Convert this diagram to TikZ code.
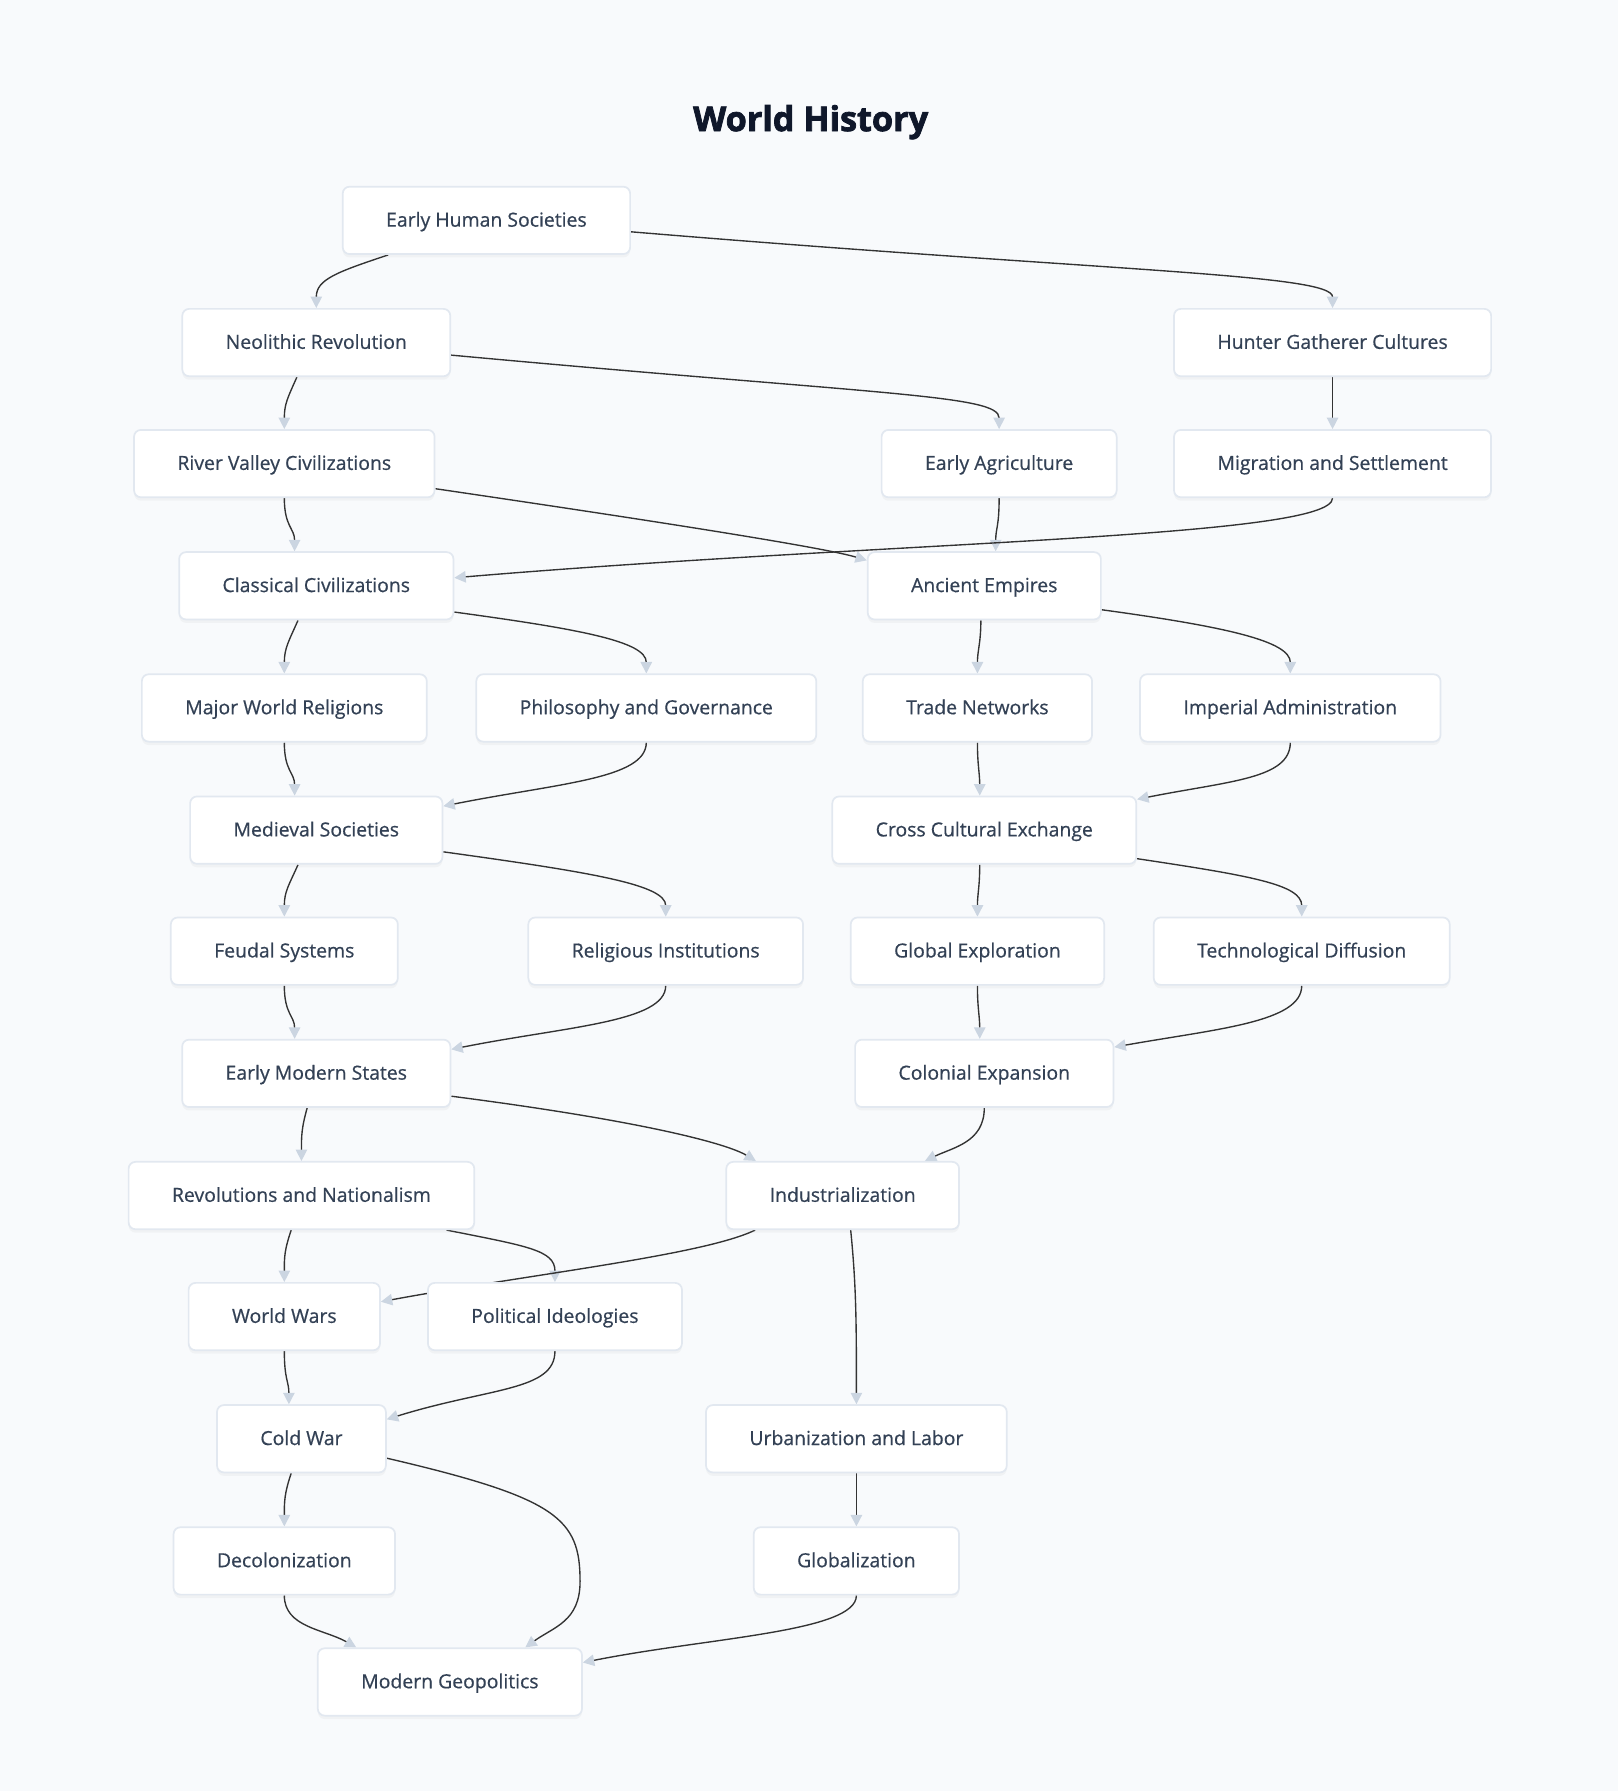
\documentclass[tikz,border=0pt]{standalone}
\usepackage{fontspec}
\setmainfont{Open Sans}[UprightFeatures={FakeBold=0.6}]
\newfontfamily\heavyfont{Open Sans}[BoldFeatures={FakeBold=2.2}]
\usetikzlibrary{arrows.meta,shadows}
\definecolor{pagebg}{HTML}{F8FAFC}
\definecolor{boxline}{HTML}{E2E8F0}
\definecolor{boxtext}{HTML}{334155}
\definecolor{titletext}{HTML}{0F172A}
\definecolor{edgeline}{HTML}{333333}
\definecolor{tipcol}{HTML}{CBD5E1}
\pgfdeclarelayer{bg}
\pgfdeclarelayer{edges}
\pgfsetlayers{bg,edges,main}
\begin{document}
\begin{tikzpicture}[x=1pt, y=-1pt,
    topic/.style={shape=rectangle, rounded corners=6pt, fill=white, draw=boxline, line width=1.5pt,
        minimum height=59pt, inner xsep=38pt, text height=12pt, text depth=1pt, text=boxtext,
        font=\fontsize{17}{20}\selectfont,
        drop shadow={opacity=0.06, shadow xshift=0pt, shadow yshift=-3pt}},
    link/.style={draw=edgeline, line width=1.2pt, -{Triangle[length=10pt, width=10pt, color=tipcol]}}]
    \useasboundingbox (0, 0) rectangle (1417, 1568.5);
    \begin{pgfonlayer}{bg}
        \fill[pagebg] (0, 0) rectangle (1417, 1568.5);
    \end{pgfonlayer}

    \node[text=titletext, font=\fontsize{30}{36}\selectfont\heavyfont\bfseries] (title) at (710, 107) {World History};

    \node[topic] (ehs) at (426, 193) {Early Human Societies};
    \node[topic] (neo) at (277, 300) {Neolithic Revolution};
    \node[topic] (hgc) at (1167, 300) {Hunter Gatherer Cultures};
    \node[topic] (rvc) at (249, 406) {River Valley Civilizations};
    \node[topic] (eag) at (875, 406) {Early Agriculture};
    \node[topic] (mig) at (1167, 406) {Migration and Settlement};
    \node[topic] (cla) at (277, 513) {Classical Civilizations};
    \node[topic] (aem) at (862, 513) {Ancient Empires};
    \node[topic] (mwr) at (249, 620) {Major World Religions};
    \node[topic] (phg) at (566, 620) {Philosophy and Governance};
    \node[topic] (trn) at (856, 620) {Trade Networks};
    \node[topic] (iad) at (1130, 620) {Imperial Administration};
    \node[topic] (med) at (277, 727) {Medieval Societies};
    \node[topic] (cce) at (862, 727) {Cross Cultural Exchange};
    \node[topic] (feu) at (249, 833) {Feudal Systems};
    \node[topic] (rin) at (583, 833) {Religious Institutions};
    \node[topic] (gex) at (856, 833) {Global Exploration};
    \node[topic] (tdf) at (1140, 833) {Technological Diffusion};
    \node[topic] (ems) at (277, 940) {Early Modern States};
    \node[topic] (cex) at (862, 940) {Colonial Expansion};
    \node[topic] (rnt) at (264, 1047) {Revolutions and Nationalism};
    \node[topic] (ind) at (738, 1047) {Industrialization};
    \node[topic] (wwr) at (249, 1153) {World Wars};
    \node[topic] (pid) at (486, 1153) {Political Ideologies};
    \node[topic] (cwr) at (264, 1260) {Cold War};
    \node[topic] (ula) at (750, 1260) {Urbanization and Labor};
    \node[topic] (dec) at (249, 1367) {Decolonization};
    \node[topic] (glb) at (750, 1367) {Globalization};
    \node[topic] (mgp) at (394, 1473) {Modern Geopolitics};

    \begin{pgfonlayer}{edges}
        \draw[link] ([xshift=-86pt]ehs.south) .. controls +(-45, 15) and +(0, -25) .. (neo.north);
        \draw[link] ([yshift=-10pt]ehs.east) .. controls +(420, 35) and +(0, -30) .. (hgc.north);
        \draw[link] ([xshift=-17pt]neo.south) .. controls +(-8, 18) and +(0, -22) .. (rvc.north);
        \draw[link] ([yshift=-11pt]neo.east) .. controls +(380, 35) and +(0, -30) .. (eag.north);
        \draw[link] (hgc.south) -- (mig.north);
        \draw[link] (rvc.south) .. controls +(0, 25) and +(0, -20) .. ([xshift=-19pt]cla.north);
        \draw[link] ([yshift=-22pt]rvc.east) .. controls +(170, 25) and +(-40, -12) .. ([yshift=-8pt]aem.north west);
        \draw[link] (eag.south) .. controls +(0, 25) and +(0, -20) .. ([xshift=10pt]aem.north);
        \draw[link] (mig.south) .. controls +(0, 35) and +(380, -32) .. ([yshift=7pt]cla.east);
        \draw[link] ([xshift=-16pt]cla.south) .. controls +(-8, 18) and +(0, -22) .. (mwr.north);
        \draw[link] ([yshift=-23pt]cla.east) .. controls +(110, 15) and +(0, -28) .. (phg.north);
        \draw[link] ([xshift=-3pt]aem.south) .. controls +(0, 20) and +(0, -20) .. (trn.north);
        \draw[link] ([yshift=-21pt]aem.east) .. controls +(110, 15) and +(0, -28) .. (iad.north);
        \draw[link] (mwr.south) .. controls +(0, 25) and +(0, -20) .. ([xshift=-19pt]med.north);
        \draw[link] (phg.south) .. controls +(0, 32) and +(100, -20) .. ([yshift=21pt]med.east);
        \draw[link] (trn.south) .. controls +(0, 20) and +(0, -20) .. ([xshift=-4pt]cce.north);
        \draw[link] (iad.south) .. controls +(0, 32) and +(80, -16) .. ([yshift=27pt]cce.east);
        \draw[link] ([xshift=-16pt]med.south) .. controls +(-8, 18) and +(0, -22) .. (feu.north);
        \draw[link] ([yshift=-19pt]med.east) .. controls +(130, 18) and +(0, -28) .. (rin.north);
        \draw[link] ([xshift=-4pt]cce.south) .. controls +(0, 20) and +(0, -20) .. (gex.north);
        \draw[link] ([yshift=-25pt]cce.east) .. controls +(100, 15) and +(0, -28) .. (tdf.north);
        \draw[link] (feu.south) .. controls +(0, 25) and +(0, -20) .. ([xshift=-19pt]ems.north);
        \draw[link] (rin.south) .. controls +(0, 32) and +(100, -20) .. ([yshift=21pt]ems.east);
        \draw[link] (gex.south) .. controls +(0, 20) and +(0, -20) .. ([xshift=-4pt]cex.north);
        \draw[link] (tdf.south) .. controls +(0, 32) and +(90, -16) .. ([yshift=23pt]cex.east);
        \draw[link] ([xshift=-8pt]ems.south) .. controls +(-5, 18) and +(0, -22) .. (rnt.north);
        \draw[link] ([yshift=-20pt]ems.east) .. controls +(170, 22) and +(-25, -15) .. ([xshift=-76pt]ind.north);
        \draw[link] (cex.south) .. controls +(0, 30) and +(25, -12) .. ([xshift=72pt]ind.north);
        \draw[link] ([xshift=-9pt]rnt.south) .. controls +(-6, 18) and +(0, -22) .. (wwr.north);
        \draw[link] ([xshift=-25pt]rnt.south east) .. controls +(70, 14) and +(0, -28) .. (pid.north);
        \draw[link] ([xshift=26pt]ind.south west) .. controls +(-45, 22) and +(130, -24) .. ([yshift=13pt]wwr.east);
        \draw[link] ([xshift=7pt]ind.south) .. controls +(5, 50) and +(0, -70) .. (ula.north);
        \draw[link] (wwr.south) .. controls +(0, 25) and +(0, -20) .. ([xshift=-11pt]cwr.north);
        \draw[link] (pid.south) .. controls +(0, 35) and +(90, -28) .. ([yshift=17pt]cwr.east);
        \draw[link] ([xshift=-9pt]cwr.south) .. controls +(-6, 18) and +(0, -22) .. (dec.north);
        \draw[link] ([yshift=-17pt]cwr.east) .. controls +(150, 35) and +(0, -55) .. (508, 1385)
            .. controls +(0, 35) and +(25, -18) .. ([xshift=66pt]mgp.north);
        \draw[link] (ula.south) -- (glb.north);
        \draw[link] (dec.south) .. controls +(0, 28) and +(-28, -16) .. ([xshift=-82pt]mgp.north);
        \draw[link] (glb.south) .. controls +(0, 32) and +(110, -22) .. ([yshift=17pt]mgp.east);
    \end{pgfonlayer}
\end{tikzpicture}
\end{document}
